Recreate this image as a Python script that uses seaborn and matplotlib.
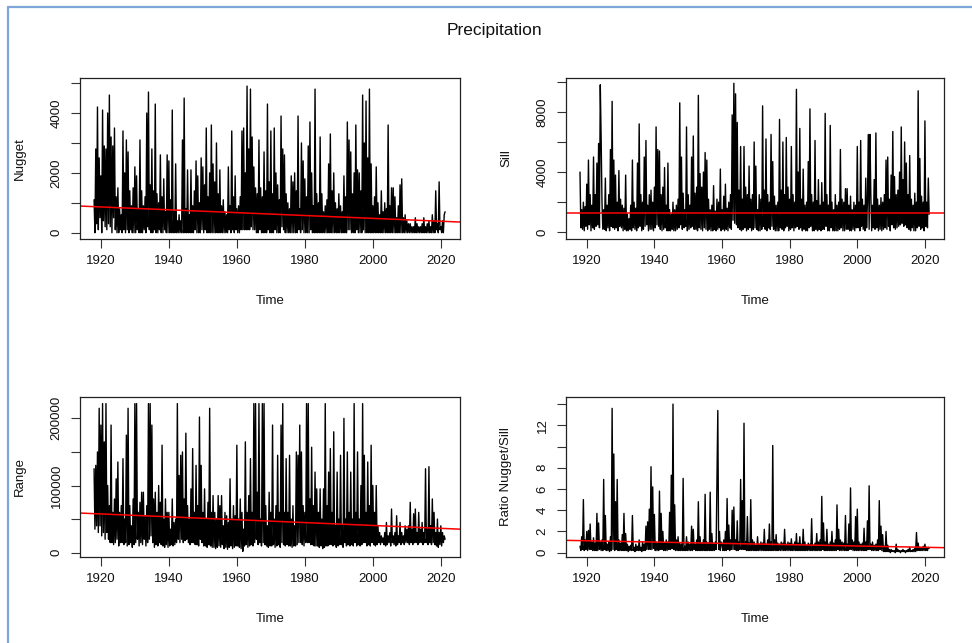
import numpy as np
import pandas as pd
import matplotlib
matplotlib.use("Agg")
import matplotlib.pyplot as plt
from matplotlib.lines import Line2D
import seaborn as sns

sns.set_style("ticks")
plt.rcParams['font.family'] = ['Liberation Sans', 'DejaVu Sans']

# ---------------- data (quarterly values) ----------------
START_YEAR = 1918
PER_YEAR = 4

# Nugget, in hundreds
nugget_hundreds = [
    11, 0, 28, 3,  42, 1, 25, 5,  19, 0, 41, 4,  29, 2, 28, 1,
    40, 3, 46, 2,  32, 0, 29, 5,  35, 1, 12, 0,  15, 0, 8, 1,
    6, 0, 34, 1,  20, 0, 31, 1,  27, 0, 14, 1,  9, 0, 15, 0,
    22, 0, 19, 1,  8, 0, 31, 0,  14, 0, 9, 1,  12, 0, 40, 2,
    47, 1, 16, 0,  28, 0, 14, 1,  43, 0, 13, 0,  10, 1, 26, 0,
    12, 0, 18, 1,  7, 0, 26, 0,  24, 0, 11, 0,  41, 0, 7, 0,
    23, 0, 4, 0,  6, 0, 4, 0,  31, 0, 45, 0,  8, 0, 21, 0,
    6, 0, 21, 0,  9, 0, 14, 1,  24, 0, 19, 0,  10, 0, 25, 1,
    22, 0, 16, 1,  35, 0, 12, 0,  20, 0, 36, 0,  23, 0, 17, 0,
    30, 0, 13, 0,  21, 0, 9, 0,  11, 0, 7, 0,  6, 0, 22, 1,
    9, 0, 34, 1,  12, 0, 19, 1,  8, 0, 9, 0,  12, 1, 34, 1,
    35, 1, 20, 1,  49, 1, 28, 1,  48, 2, 32, 1,  22, 1, 15, 0,
    13, 0, 31, 1,  15, 0, 12, 0,  27, 0, 14, 0,  43, 1, 17, 0,
    34, 0, 13, 0,  35, 1, 20, 0,  16, 0, 11, 0,  39, 2, 28, 1,
    26, 0, 13, 0,  10, 0, 8, 0,  19, 0, 17, 0,  20, 0, 14, 0,
    39, 1, 8, 0,  30, 1, 24, 0,  18, 0, 12, 0,  29, 0, 37, 1,
    20, 0, 9, 0,  48, 0, 13, 0,  10, 0, 32, 0,  13, 0, 7, 0,
    9, 0, 11, 0,  23, 0, 33, 0,  14, 0, 20, 0,  10, 0, 8, 0,
    13, 0, 9, 0,  7, 0, 19, 0,  12, 0, 37, 1,  31, 1, 27, 0,
    13, 0, 20, 0,  36, 1, 21, 0,  20, 0, 14, 0,  46, 1, 30, 0,
    44, 0, 25, 0,  48, 0, 23, 0,  9, 0, 12, 0,  22, 0, 10, 0,
    6, 0, 14, 0,  7, 0, 10, 0,  8, 0, 36, 0,  9, 0, 15, 0,
    15, 0, 12, 0,  5, 0, 9, 0,  16, 0, 18, 0,  5, 0, 6, 0,
    4, 0, 3, 0,  3, 0, 2, 0,  2, 0, 5, 0,  3, 0, 2, 0,
    2, 0, 3, 0,  5, 0, 2, 0,  3, 0, 4, 0,  2, 0, 6, 0,
    4, 0, 14, 1,  3, 0, 17, 1,  2, 0, 4, 0,  6, 7,
]

# Sill, in hundreds
sill_hundreds = [
    40, 3, 15, 2,  20, 1, 17, 4,  32, 2, 48, 5,  25, 1, 18, 3,
    50, 2, 25, 4,  46, 5, 59, 3,  98, 63, 20, 2,  15, 2, 36, 1,
    18, 3, 25, 1,  55, 4, 87, 3,  48, 2, 38, 3,  20, 1, 41, 4,
    22, 3, 18, 1,  16, 2, 38, 1,  12, 1, 9, 2,  18, 1, 48, 3,
    20, 2, 16, 1,  46, 3, 72, 4,  25, 1, 20, 2,  50, 4, 61, 5,
    18, 1, 25, 2,  28, 2, 20, 1,  30, 3, 70, 5,  55, 4, 54, 2,
    25, 1, 30, 2,  43, 3, 18, 1,  46, 1, 15, 1,  12, 2, 20, 1,
    15, 1, 18, 2,  22, 3, 86, 5,  50, 2, 26, 3,  15, 4, 70, 1,
    25, 2, 18, 3,  50, 4, 64, 2,  26, 2, 30, 1,  91, 3, 39, 2,
    30, 1, 40, 3,  53, 2, 48, 1,  22, 2, 15, 1,  18, 1, 31, 2,
    14, 1, 22, 2,  20, 3, 42, 1,  15, 2, 24, 1,  32, 2, 16, 1,
    20, 3, 25, 2,  78, 8, 99, 6,  92, 5, 73, 3,  28, 2, 57, 1,
    22, 2, 57, 3,  30, 1, 25, 2,  44, 3, 22, 1,  25, 2, 60, 3,
    44, 2, 15, 1,  25, 1, 22, 2,  84, 4, 28, 2,  62, 1, 25, 3,
    20, 2, 65, 4,  47, 2, 24, 1,  18, 1, 20, 1,  75, 3, 28, 2,
    60, 1, 25, 3,  63, 4, 30, 1,  22, 2, 57, 3,  25, 1, 20, 3,
    95, 4, 40, 2,  69, 3, 22, 1,  42, 2, 18, 1,  20, 1, 47, 3,
    82, 4, 25, 1,  20, 1, 61, 2,  21, 1, 35, 2,  18, 1, 33, 2,
    20, 2, 79, 4,  25, 1, 18, 1,  71, 3, 20, 1,  15, 1, 25, 1,
    18, 1, 20, 2,  55, 3, 22, 1,  20, 1, 29, 2,  29, 2, 18, 1,
    24, 1, 15, 2,  20, 1, 18, 3,  57, 3, 20, 1,  61, 4, 22, 2,
    18, 1, 36, 3,  20, 65, 2, 65,  25, 1, 18, 3,  35, 2, 66, 3,
    22, 1, 18, 2,  23, 1, 20, 2,  25, 3, 48, 2,  50, 4, 22, 1,
    38, 5, 67, 3,  37, 2, 25, 3,  28, 4, 40, 5,  70, 6, 35, 4,
    60, 5, 46, 3,  25, 2, 51, 1,  22, 3, 18, 1,  26, 1, 20, 3,
    94, 4, 49, 2,  24, 3, 20, 1,  74, 4, 20, 3,  36, 12,
]

# Range, in thousands
range_thousands = [
    125, 35, 130, 40,  150, 30, 215, 40,  190, 25, 222, 30,  165, 20, 222, 30,
    100, 20, 70, 15,  190, 15, 60, 12,  80, 15, 110, 20,  135, 10, 60, 15,
    70, 15, 140, 12,  50, 15, 175, 10,  215, 12, 70, 15,  40, 8, 80, 12,
    222, 15, 222, 20,  60, 10, 75, 15,  90, 12, 90, 20,  55, 10, 70, 15,
    222, 20, 222, 25,  190, 15, 80, 8,  90, 12, 60, 10,  100, 15, 75, 12,
    160, 10, 50, 8,  80, 12, 60, 8,  60, 10, 35, 12,  80, 10, 45, 12,
    50, 15, 222, 20,  115, 15, 145, 20,  150, 15, 80, 18,  178, 20, 70, 15,
    50, 12, 95, 15,  155, 15, 60, 12,  130, 12, 70, 10,  202, 20, 130, 15,
    60, 10, 95, 10,  50, 8, 75, 12,  215, 10, 60, 8,  85, 8, 60, 6,
    50, 8, 85, 10,  70, 8, 85, 12,  40, 6, 60, 8,  55, 5, 45, 8,
    110, 10, 50, 6,  70, 8, 55, 10,  160, 10, 50, 8,  80, 6, 60, 2,
    35, 10, 165, 12,  60, 8, 85, 10,  140, 12, 60, 10,  222, 15, 222, 20,
    90, 12, 222, 15,  50, 10, 222, 15,  222, 12, 70, 10,  40, 8, 90, 10,
    60, 10, 190, 12,  50, 8, 70, 10,  145, 12, 60, 8,  190, 15, 222, 12,
    60, 10, 140, 12,  60, 10, 145, 10,  50, 8, 70, 10,  40, 10, 150, 12,
    145, 15, 190, 15,  150, 12, 70, 10,  60, 15, 222, 15,  222, 15, 80, 12,
    157, 12, 70, 10,  120, 10, 95, 10,  60, 8, 95, 10,  50, 6, 95, 8,
    222, 10, 70, 10,  120, 12, 155, 12,  60, 10, 180, 12,  40, 8, 120, 10,
    50, 12, 145, 12,  40, 8, 200, 15,  50, 10, 150, 12,  60, 10, 120, 12,
    50, 10, 222, 15,  60, 10, 150, 12,  50, 10, 100, 12,  222, 15, 145, 15,
    60, 10, 135, 12,  70, 10, 160, 15,  100, 12, 60, 10,  100, 12, 40, 15,
    30, 12, 25, 15,  22, 12, 30, 10,  45, 12, 25, 15,  30, 10, 65, 15,
    25, 12, 30, 10,  55, 12, 25, 15,  45, 12, 30, 15,  25, 12, 40, 15,
    35, 15, 40, 12,  75, 15, 35, 12,  58, 15, 65, 15,  30, 12, 60, 15,
    35, 15, 45, 12,  30, 15, 125, 15,  35, 12, 128, 15,  40, 12, 80, 15,
    60, 12, 30, 10,  50, 8, 30, 12,  40, 10, 30, 15,  25, 20,
]

# Ratio Nugget/Sill, in tenths
ratio_tenths = [
    6, 2, 15, 3,  50, 2, 12, 3,  20, 2, 21, 3,  27, 3, 10, 2,
    14, 2, 9, 2,  37, 2, 28, 3,  10, 2, 12, 2,  69, 3, 35, 2,
    8, 2, 10, 1,  15, 2, 136, 3,  93, 2, 48, 3,  69, 2, 12, 2,
    9, 2, 17, 2,  37, 2, 18, 2,  8, 1, 6, 2,  7, 2, 35, 2,
    5, 1, 8, 2,  6, 2, 12, 2,  5, 1, 10, 2,  8, 2, 25, 3,
    29, 3, 41, 3,  81, 3, 62, 4,  36, 2, 10, 2,  9, 2, 58, 3,
    37, 3, 20, 2,  9, 2, 12, 2,  10, 3, 38, 3,  73, 4, 140, 3,
    45, 2, 12, 2,  15, 2, 9, 2,  8, 2, 70, 2,  6, 2, 15, 2,
    10, 2, 8, 2,  25, 2, 22, 3,  8, 2, 12, 2,  48, 2, 15, 2,
    9, 2, 12, 2,  55, 2, 10, 2,  9, 2, 57, 2,  18, 2, 9, 2,
    10, 3, 68, 134,  3, 20, 2, 10,  8, 2, 12, 2,  20, 2, 51, 3,
    26, 2, 12, 3,  40, 3, 43, 3,  12, 2, 30, 2,  10, 3, 69, 3,
    49, 3, 122, 3,  10, 2, 34, 2,  9, 2, 50, 2,  12, 2, 10, 2,
    7, 2, 15, 2,  8, 2, 10, 2,  9, 2, 22, 2,  8, 2, 12, 2,
    27, 2, 10, 2,  101, 2, 12, 2,  17, 2, 9, 2,  8, 2, 10, 2,
    9, 2, 22, 2,  8, 2, 10, 2,  9, 2, 13, 2,  8, 2, 10, 2,
    18, 2, 9, 2,  15, 2, 8, 2,  22, 2, 10, 2,  7, 2, 9, 2,
    8, 2, 32, 2,  7, 2, 9, 2,  18, 2, 10, 2,  12, 2, 53, 3,
    28, 2, 10, 2,  22, 2, 8, 2,  10, 2, 20, 2,  9, 2, 12, 2,
    45, 3, 22, 2,  12, 2, 10, 2,  9, 2, 35, 2,  8, 2, 27, 3,
    61, 3, 12, 2,  10, 2, 34, 2,  41, 2, 10, 2,  8, 2, 9, 2,
    23, 2, 10, 2,  30, 3, 63, 3,  8, 2, 10, 2,  7, 2, 8, 2,
    12, 2, 49, 3,  25, 2, 17, 1,  6, 1, 20, 1,  7, 1, 3, 0,
    3, 1, 2, 1,  2, 0, 8, 1,  3, 1, 2, 0,  2, 1, 3, 1,
    2, 0, 2, 1,  3, 1, 5, 1,  2, 1, 3, 1,  4, 1, 19, 2,
    9, 2, 5, 2,  4, 2, 6, 2,  8, 2, 5, 2,  5, 4,
]

# fitted trend lines: values at the two reference years
trend_years = [1918, 2021]
nugget_trend = [871, 379]
sill_trend = [1314, 1314]
range_trend = [58100, 36000]
ratio_trend = [1.134, 0.498]

x_ticks = [1920, 1940, 1960, 1980, 2000, 2020]
nugget_yticks = [0, 1000, 2000, 3000, 4000, 5000]
nugget_ylabels = ['0', '', '2000', '', '4000', '']
sill_yticks = [0, 2000, 4000, 6000, 8000, 10000]
sill_ylabels = ['0', '', '4000', '', '8000', '']
range_yticks = [0, 50000, 100000, 150000, 200000]
range_ylabels = ['0', '', '100000', '', '200000']
ratio_yticks = [0, 2, 4, 6, 8, 10, 12, 14]
ratio_ylabels = ['0', '2', '4', '6', '8', '', '12', '']

panels = [
    dict(label='Nugget', values=np.array(nugget_hundreds) * 100, trend=nugget_trend,
         yticks=nugget_yticks, ylabels=nugget_ylabels, ylim=(-210, 5170),
         rect=[80 / 972, 1 - 239 / 643, 380 / 972, 161 / 643]),
    dict(label='Sill', values=np.array(sill_hundreds) * 100, trend=sill_trend,
         yticks=sill_yticks, ylabels=sill_ylabels, ylim=(-446, 10251),
         rect=[566 / 972, 1 - 239 / 643, 378 / 972, 161 / 643]),
    dict(label='Range', values=np.array(range_thousands) * 1000, trend=range_trend,
         yticks=range_yticks, ylabels=range_ylabels, ylim=(-6450, 231800),
         rect=[80 / 972, 1 - 557 / 643, 380 / 972, 160 / 643]),
    dict(label='Ratio Nugget/Sill', values=np.array(ratio_tenths) / 10, trend=ratio_trend,
         yticks=ratio_yticks, ylabels=ratio_ylabels, ylim=(-0.41, 14.67),
         rect=[566 / 972, 1 - 557 / 643, 378 / 972, 160 / 643]),
]

fig = plt.figure(figsize=(9.72, 6.43), dpi=100)
fig.patch.set_facecolor('white')

FS = 9.5
for p in panels:
    ax = fig.add_axes(p['rect'])
    vals = p['values']
    df = pd.DataFrame({'Time': START_YEAR + np.arange(len(vals)) / PER_YEAR,
                       'value': vals})
    sns.lineplot(data=df, x='Time', y='value', ax=ax, color='black',
                 linewidth=1.0, estimator=None, sort=False)
    ax.axline((trend_years[0], p['trend'][0]), (trend_years[1], p['trend'][1]),
              color='red', linewidth=1.1)
    ax.set_xlim(1913.86, 2025.64)
    ax.set_ylim(*p['ylim'])
    ax.set_xticks(x_ticks)
    ax.set_xticklabels([str(v) for v in x_ticks])
    ax.set_yticks(p['yticks'])
    ax.set_yticklabels(p['ylabels'], rotation=90, va='center')
    ax.tick_params(axis='both', which='major', bottom=True, left=True,
                   direction='out', length=6.5, width=0.8,
                   color='#333333', labelcolor='#111111', labelsize=FS)
    ax.tick_params(axis='x', pad=5)
    ax.tick_params(axis='y', pad=6)
    for s in ax.spines.values():
        s.set_visible(True)
        s.set_color('#222222')
        s.set_linewidth(0.9)
    ax.set_xlabel('Time', fontsize=FS, color='#111111')
    ax.set_ylabel(p['label'], fontsize=FS, color='#111111')
    h_px = p['rect'][3] * 643
    w_px = p['rect'][2] * 972
    ax.xaxis.set_label_coords(0.5, -61.5 / h_px)
    ax.xaxis.label.set_va('center')
    ax.yaxis.set_label_coords(-60 / w_px, 0.5)
    ax.yaxis.label.set_va('center')
    ax.yaxis.label.set_ha('center')

fig.text(494 / 972, 1 - 30 / 643, 'Precipitation', ha='center', va='center',
         fontsize=12.5, color='#111111')

# screenshot frame lines (left and top)
fig.add_artist(Line2D([8 / 972, 8 / 972], [0, 1 - 6.5 / 643], transform=fig.transFigure,
                      color='#7ea6d8', linewidth=1.6))
fig.add_artist(Line2D([8 / 972, 1], [1 - 6.5 / 643, 1 - 6.5 / 643], transform=fig.transFigure,
                      color='#7ea6d8', linewidth=1.6))

fig.savefig('out.png', dpi=100)
